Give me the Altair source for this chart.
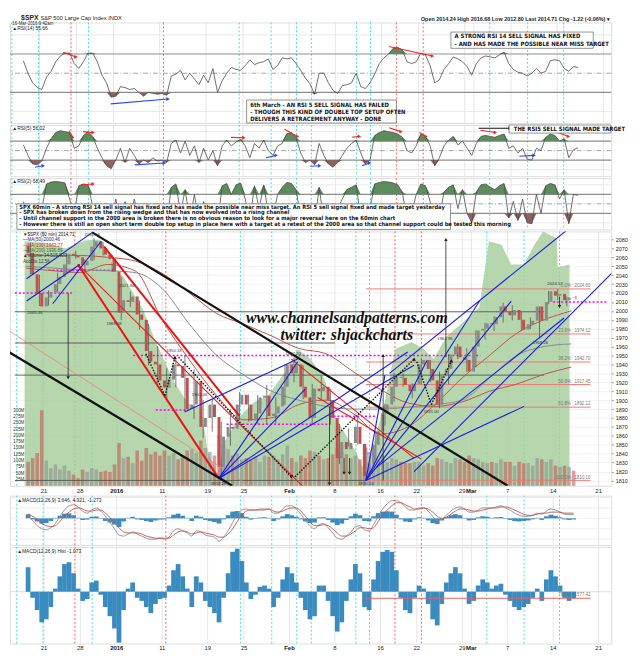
import altair as alt
import pandas as pd

# ---------------------------------------------------------------- calendar (trading-day index, Dec 17 2015 = 0)
tick_t = [2, 6, 10, 15, 20, 24, 29, 34, 39, 43, 48, 49, 53, 58, 63]
tick_lbl = ["21", "28", "2016", "11", "19", "25", "Feb", "8", "16", "22", "29", "Mar", "7", "14", "21"]
bold_tick_t = [10, 29, 49]
cyan_t = [-1.0, 1.9, 7.3, 23.6, 27.05, 29.8, 31.4, 36.3, 37.8, 50.7, 54.8, 58.7]
red_t = [5.4, 15.4, 40.6, 43.5]

# ---------------------------------------------------------------- price (half-day closes)
first_open = 2073.0
half_day_close = [
    2065, 2041, 2020, 2005, 2015, 2021, 2030, 2038, 2052, 2064,
    2062, 2060, 2051, 2056, 2072, 2078, 2070, 2063, 2058, 2044,
    1998, 2012, 2010, 2016, 1996, 1990, 1955, 1943, 1940, 1922,
    1914, 1923, 1940, 1938, 1925, 1890, 1895, 1921, 1870, 1880,
    1895, 1881, 1825, 1859, 1870, 1868, 1895, 1906, 1895, 1877,
    1885, 1903, 1905, 1882, 1885, 1893, 1915, 1940, 1930, 1940,
    1915, 1903, 1880, 1913, 1910, 1915, 1900, 1880, 1835, 1853,
    1845, 1852, 1870, 1851, 1815, 1829, 1850, 1865, 1885, 1895,
    1915, 1926, 1925, 1917, 1910, 1918, 1940, 1945, 1935, 1922,
    1895, 1929, 1935, 1951, 1960, 1948, 1945, 1932, 1960, 1978,
    1980, 1986, 1985, 1993, 2005, 1999, 1995, 2001, 1990, 1979,
    1985, 1989, 2005, 1989, 2010, 2022, 2017, 2019, 2012, 2015,
    2014.7,
]
day_high = [
    2076.7, 2040.4, 2022.9, 2042.7, 2064.7, 2067.4, 2057.8, 2081.6, 2077.3, 2062.5,
    2038.2, 2021.9, 2011.7, 1985.3, 1960.4, 1935.7, 1947.4, 1950.3, 1934.5, 1900.2,
    1901.4, 1876.0, 1889.9, 1908.9, 1906.3, 1905.9, 1917.0, 1903.0, 1940.2, 1947.2,
    1939.0, 1918.0, 1927.4, 1913.0, 1873.5, 1868.3, 1881.6, 1847.0, 1864.8, 1895.8,
    1930.7, 1930.0, 1918.8, 1946.7, 1945.0, 1932.0, 1951.8, 1963.0, 1958.0, 1978.4,
    1986.5, 1994.0, 2009.1, 2006.5, 1999.4, 1992.7, 2005.0, 2022.4, 2024.6, 2016.0,
    2016.7,
]
day_low = [
    2041.0, 2005.5, 2005.9, 2020.5, 2042.4, 2058.7, 2044.2, 2056.7, 2062.0, 2043.6,
    1989.7, 2004.2, 1979.1, 1938.8, 1918.5, 1901.1, 1914.4, 1886.4, 1878.9, 1857.8,
    1864.6, 1812.3, 1849.0, 1877.5, 1876.0, 1873.0, 1872.7, 1873.7, 1894.7, 1920.0,
    1901.0, 1872.7, 1900.5, 1872.7, 1828.5, 1848.0, 1850.3, 1810.1, 1833.0, 1871.4,
    1898.6, 1915.0, 1902.0, 1918.0, 1920.0, 1891.0, 1917.8, 1945.8, 1931.8, 1937.0,
    1968.0, 1977.4, 1986.8, 1989.4, 1977.7, 1979.8, 1969.3, 2007.5, 2012.1, 2005.2,
    2012.8,
]
volume_m = [
    95, 110, 130, 300, 100, 70, 85, 65, 80, 60,
    45, 30, 65, 55, 70, 65, 55, 60, 55, 85,
    170, 110, 115, 90, 140, 100, 150, 125, 135, 120,
    140, 120, 130, 105, 120, 140, 145, 130, 180, 150,
    135, 120, 200, 160, 145, 120, 130, 105, 110, 105,
    115, 95, 120, 115, 120, 105, 125, 160, 110, 95,
    120, 110, 140, 135, 120, 105, 110, 125, 150, 135,
    125, 110, 120, 105, 165, 135, 110, 105, 120, 95,
    110, 105, 95, 90, 90, 95, 95, 80, 90, 80,
    110, 105, 95, 90, 110, 105, 95, 120, 110, 105,
    95, 90, 95, 90, 105, 95, 95, 80, 95, 90,
    90, 80, 110, 105, 95, 105, 80, 75, 80, 75,
    60,
]
green_t = [-0.13, 2.21, 4.35, 6.48, 8.08, 9.14, 9.68, 10.74, 12.87, 14.26, 16.39, 17.88, 19.27,
           20.02, 21.08, 21.93, 23.54, 25.13, 26.73, 28.55, 29.93, 31.32, 32.81, 34.19, 35.26,
           36.33, 37.4, 38.47, 39.53, 40.6, 42.41, 43.8, 44.86, 46.25, 48.38, 49.87, 50.93,
           52.32, 53.39, 54.77, 56.05, 56.9, 58.4, 58.5, 59.8]
green_p = [2078, 2076, 2070, 2079, 2080, 2065, 2046, 2038, 2002, 1966, 1919, 1896, 1892,
           1842, 1817, 1855, 1882, 1898, 1906, 1932, 1957, 1946, 1925, 1878, 1860,
           1842, 1817, 1860, 1900, 1957, 1965, 1957, 1946, 1971, 1990, 2004, 2078,
           2074, 2052, 2052, 2076, 2089, 2081, 2049, 2052]

ma_t = [0, 3, 6, 9, 12, 15, 18, 21, 24, 27, 30, 33, 36, 39, 42, 45, 48, 51, 54, 57, 60]
ma50 = [2048, 2045, 2043, 2052, 2045, 1990, 1945, 1905, 1878, 1880, 1895, 1900, 1885, 1862, 1870, 1895, 1925, 1950, 1975, 1990, 2000]
ma100 = [2050, 2048, 2046, 2045, 2043, 2025, 1985, 1950, 1928, 1910, 1900, 1893, 1890, 1890, 1892, 1895, 1900, 1925, 1950, 1960, 1963]
ma200 = [2063, 2062, 2062, 2060, 2056, 2042, 2020, 1997, 1985, 1972, 1958, 1952, 1932, 1912, 1897, 1893, 1898, 1910, 1918, 1929, 1937]

# ---------------------------------------------------------------- indicators (half-day samples)
rsi14 = [63, 50, 40, 35, 33, 46, 52, 62, 68, 71, 71, 60, 55, 62, 71, 71, 62, 48, 40, 25,
         26, 36, 35, 33, 34, 30, 26, 30, 29, 28, 29, 27, 47, 49, 53, 43, 50, 44, 38, 48,
         40, 55, 30, 42, 50, 56, 54, 53, 58, 64, 59, 61, 62, 65, 54, 58, 66, 65, 66, 60,
         53, 45, 39, 28, 50, 50, 40, 32, 29, 37, 38, 40, 50, 36, 34, 40, 49, 60, 66, 70,
         76, 77, 74, 62, 60, 62, 71, 69, 58, 40, 43, 54, 60, 67, 65, 62, 57, 48, 60, 66,
         68, 67, 66, 69, 72, 60, 54, 51, 50, 47, 50, 55, 50, 52, 63, 64, 63, 55, 52, 57, 56]
rsi5 = [62, 40, 22, 20, 28, 55, 75, 88, 92, 90, 88, 55, 60, 82, 90, 80, 55, 35, 18, 12,
        30, 55, 25, 55, 40, 22, 30, 25, 35, 28, 30, 25, 65, 72, 45, 70, 40, 60, 25, 55,
        30, 50, 18, 60, 72, 60, 68, 74, 60, 35, 65, 55, 72, 50, 40, 60, 65, 86, 88, 78,
        45, 25, 30, 20, 65, 40, 22, 15, 25, 40, 55, 65, 72, 45, 22, 30, 82, 88, 92, 90,
        88, 85, 78, 50, 45, 60, 85, 80, 60, 18, 35, 60, 72, 80, 62, 70, 55, 40, 65, 80,
        82, 80, 78, 82, 85, 55, 60, 45, 55, 32, 30, 55, 50, 78, 85, 82, 70, 75, 35, 52, 56]
rsi2 = [55, 12, 8, 5, 40, 92, 96, 97, 96, 94, 60, 30, 88, 92, 90, 45, 20, 5, 3, 8,
        60, 10, 55, 20, 60, 15, 30, 10, 40, 12, 25, 8, 85, 92, 30, 80, 15, 70, 10, 55,
        12, 40, 3, 88, 93, 70, 90, 94, 60, 15, 88, 40, 90, 30, 20, 70, 85, 95, 93, 80,
        20, 5, 30, 5, 85, 15, 5, 3, 40, 60, 80, 85, 90, 20, 5, 40, 92, 95, 97, 96,
        94, 90, 75, 15, 30, 70, 92, 88, 55, 3, 20, 75, 85, 90, 40, 80, 30, 10, 75, 90,
        92, 85, 80, 88, 93, 20, 55, 15, 60, 10, 8, 70, 30, 88, 93, 90, 60, 80, 8, 70, 68]
macd_line = [2, -2, -7, -10, -11, -9, -5, 2, 8, 12, 13, 11, 7, 5, 8, 10, 7, 2, -4, -10,
             -16, -17, -15, -13, -15, -17, -19, -20, -20, -19, -20, -18, -12, -10, -12, -14, -17, -12, -13, -16,
             -17, -18, -22, -18, -12, -4, 4, 8, 9, 8, 8, 9, 9, 9, 5, 5, 9, 12, 12, 9,
             4, -2, -7, -10, -6, -5, -9, -14, -19, -20, -17, -13, -8, -7, -11, -12, -6, 2, 9, 14,
             17, 17, 15, 11, 8, 8, 10, 10, 7, 2, -2, -1, 3, 7, 10, 11, 9, 6, 6, 8,
             10, 10, 10, 11, 12, 10, 8, 5, 3, 2, 2, 3, 5, 4, 7, 9, 8, 6, 4, 3.5, 3.6]
macd_signal = [4, 2, -1, -5, -7, -8, -7, -3, 2, 6, 9, 10, 9, 7, 7, 8, 8, 5, 1, -4,
               -9, -13, -14, -14, -14, -15, -17, -18, -19, -19, -19, -19, -16, -13, -12, -13, -15, -14, -13, -14,
               -15, -16, -18, -18, -15, -10, -3, 3, 7, 8, 8, 8, 8, 9, 7, 6, 7, 9, 10, 10,
               7, 2, -3, -7, -7, -6, -7, -10, -14, -17, -17, -15, -12, -9, -9, -10, -9, -3, 3, 8,
               12, 15, 15, 13, 11, 9, 9, 10, 9, 6, 2, 0, 1, 4, 7, 9, 9, 8, 7, 7,
               8, 9, 10, 10, 11, 11, 10, 8, 6, 4, 3, 3, 4, 5, 5, 6, 6, 6, 5, 5, 4.9]
macd_hist = [4, -1, -3, -5, -4.5, -2.5, 0.5, 2.5, 4.5, 4.8, 3, 0.5, -1.5, -1.2, 1.5, 1.8, -0.5, -2.5, -4, -6,
             -8.3, -3, 0.5, 1.5, -1, -1.5, -2.5, -3.5, -2, -1.2, -1, 1, 3.5, 4.5, 2.5, 0.5, -2.5, 2.5, 1.5, -1.5,
             -2.5, -3.5, -5, -1, 3, 6.5, 7, 5, 1.5, -1.2, -0.5, 0.8, 1, 0.5, -2.5, -1, 2, 4, 3, 1.5,
             -1, -3, -4.5, -4, 1, 1, -1.5, -4, -6.5, -5, -1.5, 2, 4.5, 3, -2.5, -3, 2, 5, 6.5, 6.8,
             6.5, 3.5, -1, -3, -3.5, -1, 1, 0.5, -2, -4.5, -5.5, -2, 1.5, 3, 4, 3, 0.5, -2, -1.5, 1,
             2, 1.5, 0.5, 1, 1.3, -0.5, -1.5, -2.5, -3, -2.5, -2, -1, 0.5, -1.5, 2, 3.5, 2.5, 1, -1, -1.5, -1.07]

# ---------------------------------------------------------------- drawn annotations (trading day, price)
fib_pct = ["0.0%", "23.6%", "38.2%", "50.0%", "61.8%", "100.0%"]
fib_val = [2024.60, 1974.12, 1942.70, 1917.45, 1892.12, 1810.10]
blue_lines = [
    (0.08, 2036, 7.33, 2088), (2.96, 2008, 8.29, 2078), (0.08, 2011, 5.94, 2052),
    (17.5, 1887, 29.9, 1946),
    (21.2, 1812, 29.9, 1943), (21.2, 1812, 30.7, 1912), (21.2, 1812, 42.0, 1954), (21.2, 1812, 42.7, 1939),
    (37.4, 1810, 39.5, 1928), (37.4, 1810, 44.1, 1944), (37.4, 1810, 49.9, 2011), (37.4, 1810, 53.4, 2011),
    (37.4, 1810, 54.8, 1893),
    (40.0, 1930, 62.0, 2111), (42.7, 1820, 66.0, 2058), (38.5, 1824, 59.2, 1992),
]
black_lines = [(7.3, 2088, 53.0, 1804), (-2.05, 1955, 22.7, 1804)]
red_thick_lines = [(5.73, 2052, 21.1, 1814), (8.61, 2072, 23.5, 1882)]
red_lines = [(29.2, 1946, 42.7, 1835), (32.1, 1903, 43.5, 1834), (5.73, 2052, 30.4, 1804)]
salmon_lines = [(-2.05, 1979, 24.6, 1804)]
dotted_lines = [(13.2, 1952, 15.3, 1905), (15.3, 1905, 16.4, 1948), (16.8, 1948, 29.2, 1814),
                (29.6, 1814, 42.7, 1946), (43.0, 1943, 44.6, 1895), (44.6, 1895, 46.8, 1944)]
dotted_heads = [(29.2, 1814, "triangle-down"), (42.7, 1946, "triangle-up"), (46.8, 1944, "triangle-up"), (16.4, 1948, "triangle-up")]
vertical_arrows = [(4.66, 2020, 1925), (39.3, 1810, 1950), (46.2, 1948, 2080), (33.4, 1893, 1806),
                   (35.0, 1835, 1818), (35.6, 1835, 1818), (58.7, 2016, 2005)]
magenta_levels = [(-1.2, 5.1, 2020), (2.5, 9.7, 2045.6), (11.8, 50.0, 1950), (14.3, 17.9, 1889),
                  (22.1, 33.4, 1873), (33.4, 38.5, 1882), (58.0, 63.85, 2010)]
dark_levels = [(-1.2, 57.0, 1999), (-1.2, 34.0, 1964), (-1.2, 57.0, 1928), (-1.2, 37.4, 1810)]
price_labels = [(1.0, 1998, "2005.46"), (7.3, 2085.5, "2081.56"), (11.1, 2028, "2021.94"), (9.7, 1985, "1989.68"),
                (16.3, 1955, "1950.33"), (19.1, 1906, "1901.44"), (21.2, 1806.5, "1812.29"), (29.4, 1952, "1947.20"),
                (37.4, 1806.5, "1810.10"), (46.1, 1968, "1962.96"), (44.6, 1887, "1891.00"), (56.6, 1964, "1969.26"),
                (58.2, 2030, "2024.57")]
RED, BLUE, BLK = "#ff2020", "#2848ff", "#111111"
rsi14_arrows = [(4.56, 72, 5.94, 67, RED), (39.8, 78, 44.5, 68, RED), (9.7, 18, 15.9, 23, BLUE)]
rsi5_arrows = [(5.2, 92, 5.6, 78, RED), (6.7, 90, 7.8, 88, RED), (22.7, 78, 24.1, 77, RED), (28.5, 95, 29.9, 80, RED),
               (35.8, 78, 36.6, 80, RED), (39.8, 98, 41.1, 90, RED), (43.1, 88, 43.8, 80, RED), (49.5, 97, 52.9, 97, BLK),
               (49.7, 93, 51.3, 88, RED), (57.6, 92, 59.2, 80, RED), (1.5, 15, 2.4, 18, BLUE), (12.3, 20, 15.5, 24, BLUE),
               (26.5, 35, 27.6, 40, BLUE), (31.3, 17, 32.3, 18, BLUE), (36.9, 18, 37.7, 24, BLUE), (53.9, 38, 55.5, 40, BLUE)]
rsi2_arrows = [(6.5, 90, 7.8, 92, RED)]

box_note_lines = [
    "SPX 60min - A strong RSI 14 sell signal has fixed and has made the possible near miss target. An RSI 5 sell signal fixed and made target yesterday",
    "- SPX has broken down from the rising wedge and that has now evolved into a rising channel",
    "- Until channel support in the 2000 area is broken there is no obvious reason to look for a major reversal here on the 60min chart",
    "- However there is still an open short term double top setup in place here with a target at a retest of the 2000 area so that channel support could be tested this morning",
]
box1_lines = ["6th March - AN RSI 5 SELL SIGNAL HAS FAILED", "- THOUGH THIS KIND OF DOUBLE TOP SETUP OFTEN",
              "DELIVERS A RETRACEMENT ANYWAY - DONE"]
box2_lines = ["A STRONG RSI 14 SELL SIGNAL HAS FIXED", "- AND HAS MADE THE POSSIBLE NEAR MISS TARGET"]
box3_lines = ["THE RSI5 SELL SIGNAL MADE TARGET"]

# ---------------------------------------------------------------- layout
W = 610
T0, T1 = -1.2, 63.85
P0, P1 = 1804, 2089
XS = alt.Scale(domain=[T0, T1], nice=False, zero=False)
FONT = "Liberation Sans"
NARROW = "Liberation Sans Narrow, DejaVu Sans Condensed, Liberation Sans"
H_PRICE = 258
H_HIST = 98


def X(field="t"):
    return alt.X(f"{field}:Q", scale=XS, axis=None)


def Yq(field, scale):
    return alt.Y(f"{field}:Q", scale=scale, axis=None)


def right_axis(values, grid=False, fmt="d"):
    return alt.Axis(orient="right", values=values, title=None, labelFontSize=5.5, labelFont=FONT, format=fmt,
                    labelColor="#222", ticks=True, tickSize=2, tickColor="#999", domain=False,
                    labelPadding=2, grid=grid, gridColor="#ececec", gridWidth=0.7, minExtent=20, maxExtent=20)


def halfday(vals, name="v"):
    return pd.DataFrame({"t": [0.25 + 0.5 * i for i in range(len(vals))], name: vals})


def verticals():
    g = alt.Chart(pd.DataFrame({"t": tick_t})).mark_rule(color="#dadada", strokeWidth=0.7).encode(x=X())
    c = alt.Chart(pd.DataFrame({"t": cyan_t})).mark_rule(color="#30dada", strokeDash=[2, 2], strokeWidth=0.9).encode(x=X())
    r = alt.Chart(pd.DataFrame({"t": red_t})).mark_rule(color="#ff3434", strokeDash=[2, 2], strokeWidth=0.8).encode(x=X())
    return [g, c, r]


def date_labels(h):
    df = pd.DataFrame({"t": tick_t, "txt": tick_lbl})
    df["b"] = [t in bold_tick_t for t in tick_t]
    plain = alt.Chart(df[~df["b"]]).mark_text(baseline="top", fontSize=6, font=FONT, color="#222").encode(
        x=X(), y=alt.value(h + 2), text="txt:N")
    bold = alt.Chart(df[df["b"]]).mark_text(baseline="top", fontSize=6, font=FONT, fontWeight="bold", color="#111").encode(
        x=X(), y=alt.value(h + 2), text="txt:N")
    return [plain, bold]


def text_layer(rows, scale, size=5.0, color="#222", align="left", weight="normal", font=FONT, style="normal"):
    df = pd.DataFrame(rows, columns=["t", "v", "txt"])
    return alt.Chart(df).mark_text(align=align, baseline="middle", fontSize=size, color=color, fontWeight=weight,
                                   font=font, fontStyle=style).encode(x=X(), y=Yq("v", scale), text="txt:N")


def arrow_layers(rows, scale):
    df = pd.DataFrame(rows, columns=["t1", "v1", "t2", "v2", "c"])
    seg = alt.Chart(df).mark_rule(strokeWidth=1.1).encode(
        x=X("t1"), y=Yq("v1", scale), x2="t2:Q", y2="v2:Q", color=alt.Color("c:N", scale=None))
    head = alt.Chart(df).mark_point(shape="triangle-right", filled=True, size=16, opacity=1).encode(
        x=X("t2"), y=Yq("v2", scale), color=alt.Color("c:N", scale=None))
    return [seg, head]


def box_layer(t1, t2, v1, v2, scale):
    df = pd.DataFrame({"t1": [t1], "t2": [t2], "v1": [v1], "v2": [v2]})
    return alt.Chart(df).mark_rect(fill="white", stroke="#777", strokeWidth=0.8).encode(
        x=X("t1"), x2="t2:Q", y=Yq("v1", scale), y2="v2:Q")


def rsi_layers(vals, ys, label, arrows):
    df = halfday(vals)
    df["hi"] = df["v"].clip(lower=70)
    df["lo"] = df["v"].clip(upper=30)
    df["b70"] = 70
    df["b30"] = 30
    light = alt.Chart(pd.DataFrame({"v": [90, 10]})).mark_rule(color="#e3e3e3", strokeWidth=0.8).encode(
        y=alt.Y("v:Q", scale=ys, axis=right_axis([90, 70, 50, 30, 10])))
    mid = alt.Chart(pd.DataFrame({"v": [70, 30]})).mark_rule(color="#8d8d8d", strokeWidth=1.1).encode(y=Yq("v", ys))
    half = alt.Chart(pd.DataFrame({"v": [50]})).mark_rule(color="#8d8d8d", strokeWidth=0.8,
                                                          strokeDash=[5, 2, 1, 2]).encode(y=Yq("v", ys))
    up = alt.Chart(df).mark_area(color="#5d8b5d").encode(x=X(), y=Yq("hi", ys), y2="b70:Q")
    dn = alt.Chart(df).mark_area(color="#8b6262").encode(x=X(), y=Yq("lo", ys), y2="b30:Q")
    line = alt.Chart(df).mark_line(color="#4a4a4a", strokeWidth=0.8).encode(x=X(), y=Yq("v", ys))
    lab = text_layer([(-0.95, ys.domain[1] - 6, label)], ys, size=5)
    return verticals() + [light, mid, half, up, dn, line, lab] + arrow_layers(arrows, ys)


def header_text(t, y, txt, size, align="left", weight="normal"):
    return alt.Chart(pd.DataFrame({"t": [t], "txt": [txt]})).mark_text(
        align=align, baseline="middle", fontSize=size, font=FONT, fontWeight=weight, color="#222").encode(
        x=X(), y=alt.value(y), text="txt:N")


# ---------------- RSI(14)
S14 = alt.Scale(domain=[-2, 103], nice=False, zero=False)
rsi14_layers = rsi_layers(rsi14, S14, "\u25b2RSI(14) 55.66", rsi14_arrows)
rsi14_layers += [box_layer(24.4, 40.6, -2, 22, S14),
                 text_layer([(24.8, 17, box1_lines[0]), (24.8, 9.5, box1_lines[1]), (24.8, 2, box1_lines[2])], S14,
                            size=6, weight="bold", font=NARROW, color="#111"),
                 box_layer(46.5, 61.9, 76, 93, S14),
                 text_layer([(46.9, 89, box2_lines[0]), (46.9, 81, box2_lines[1])], S14, size=6, weight="bold",
                            font=NARROW, color="#111"),
                 header_text(0.0, -5, "$SPX", 7, weight="bold"),
                 header_text(2.1, -5, "S&P 500 Large Cap Index INDX", 5.8),
                 header_text(63.7, -4, "Open 2014.24  High 2016.68  Low 2012.80  Last 2014.71  Chg -1.22 (-0.06%) \u25be", 5.5,
                             align="right", weight="bold"),
                 header_text(-0.95, 1.5, "16-Mar-2016 9:42am", 4.5)]
p_rsi14 = alt.layer(*rsi14_layers).properties(width=W, height=102)

# ---------------- RSI(5)
S5 = alt.Scale(domain=[-4, 104], nice=False, zero=False)
rsi5_layers = rsi_layers(rsi5, S5, "\u25b2RSI(5) 56.02", rsi5_arrows)
rsi5_layers += [box_layer(52.8, 63.8, 87, 104, S5),
                text_layer([(53.3, 95.5, box3_lines[0])], S5, size=6, weight="bold", font=NARROW, color="#111")]
p_rsi5 = alt.layer(*rsi5_layers).properties(width=W, height=52)

# ---------------- RSI(2)
S2 = alt.Scale(domain=[-4, 104], nice=False, zero=False)
rsi2_layers = rsi_layers(rsi2, S2, "\u25b2RSI(2) 68.49", rsi2_arrows)
rsi2_layers += [box_layer(-0.45, 46.45, -4, 50, S2),
                text_layer([(-0.2, 44, box_note_lines[0]), (-0.2, 32, box_note_lines[1]),
                            (-0.2, 20, box_note_lines[2]), (-0.2, 8, box_note_lines[3])], S2,
                           size=5.8, weight="bold", font=NARROW, color="#111")]
p_rsi2 = alt.layer(*rsi2_layers).properties(width=W, height=52)

# ---------------- price panel
PS = alt.Scale(domain=[P0, P1], nice=False, zero=False)
opens = [first_open] + half_day_close[:-1]
cdf = pd.DataFrame({"t": [0.25 + 0.5 * i for i in range(len(half_day_close))], "o": opens, "c": half_day_close})
cdf["dir"] = ["down" if c < o else "up" for o, c in zip(opens, half_day_close)]
vdf = halfday(volume_m, "vol")
vdf["dir"] = [cdf["dir"].iloc[i] if i < len(cdf) else "up" for i in range(len(vdf))]
wdf = pd.DataFrame({"t": [d + 0.5 for d in range(len(day_high))], "h": day_high, "l": day_low})
gdf = pd.DataFrame({"t": green_t, "p": green_p})
gdf["base"] = P0
madf = pd.concat([pd.DataFrame({"t": ma_t, "p": ma50, "s": "MA50"}),
                  pd.DataFrame({"t": ma_t, "p": ma100, "s": "MA100"}),
                  pd.DataFrame({"t": ma_t, "p": ma200, "s": "MA200"})])


def segs(rows):
    return pd.DataFrame(rows, columns=["t1", "p1", "t2", "p2"])


def seg_layer(rows, color, width, dash=None, opacity=1.0):
    kw = dict(color=color, strokeWidth=width, clip=True, opacity=opacity)
    if dash:
        kw["strokeDash"] = dash
    return alt.Chart(segs(rows)).mark_rule(**kw).encode(x=X("t1"), y=Yq("p1", PS), x2="t2:Q", y2="p2:Q")


def level_layer(rows, color, width, dash=None):
    df = pd.DataFrame(rows, columns=["t1", "t2", "p"])
    kw = dict(color=color, strokeWidth=width, clip=True)
    if dash:
        kw["strokeDash"] = dash
    return alt.Chart(df).mark_rule(**kw).encode(x=X("t1"), x2="t2:Q", y=Yq("p", PS))


green = alt.Chart(gdf).mark_area(color="#a9cf9f", opacity=0.85).encode(
    x=X(),
    y=alt.Y("p:Q", scale=PS, axis=right_axis(list(range(1810, 2090, 10)), grid=True)),
    y2="base:Q")
vol = alt.Chart(vdf).mark_bar(size=3.6, opacity=0.55).encode(
    x=X(),
    y=alt.Y("vol:Q", scale=alt.Scale(domain=[0, 1010], nice=False),
            axis=alt.Axis(orient="left", offset=-15, values=list(range(25, 325, 25)), labelExpr="datum.value + 'M'",
                          labelFontSize=4.5, labelFont=FONT, ticks=False, domain=False, grid=False, labelPadding=1,
                          title=None, labelColor="#333")),
    color=alt.Color("dir:N", scale=alt.Scale(domain=["down", "up"], range=["#c0504d", "#8a8a8a"]), legend=None))
fib_df = pd.DataFrame({"p": fib_val, "txt": [f"{a} : {b:.2f}" for a, b in zip(fib_pct, fib_val)]})
fib_df["t1"] = 37.4
fib_df["t2"] = 62.1
fib_df["pl"] = fib_df["p"] + 3
fib_lines = alt.Chart(fib_df).mark_rule(color="#f07878", strokeWidth=1).encode(x=X("t1"), x2="t2:Q", y=Yq("p", PS))
fib_txt = alt.Chart(fib_df).mark_text(align="right", fontSize=4.5, font=FONT, color="#777").encode(
    x=X("t2"), y=Yq("pl", PS), text="txt:N")
mas = alt.Chart(madf).mark_line(strokeWidth=1, interpolate="monotone").encode(
    x=X(), y=Yq("p", PS),
    color=alt.Color("s:N", scale=alt.Scale(domain=["MA50", "MA100", "MA200"], range=["#1c1c8a", "#d42a2a", "#2f6a2f"]), legend=None),
    detail="s:N")
wicks = alt.Chart(wdf).mark_rule(color="#444", strokeWidth=0.7).encode(x=X(), y=Yq("l", PS), y2="h:Q")
candles = alt.Chart(cdf).mark_bar(size=3.0).encode(
    x=X(), y=Yq("o", PS), y2="c:Q",
    color=alt.Color("dir:N", scale=alt.Scale(domain=["down", "up"], range=["#e3001b", "#1a1a1a"]), legend=None))
heads_df = pd.DataFrame(dotted_heads, columns=["t", "p", "s"])
dot_heads = alt.Chart(heads_df).mark_point(filled=True, size=14, color="#111", opacity=1).encode(
    x=X(), y=Yq("p", PS), shape=alt.Shape("s:N", scale=None))
va = pd.DataFrame(vertical_arrows, columns=["t", "p1", "p2"])
va["s"] = ["triangle-down" if b < a else "triangle-up" for a, b in zip(va["p1"], va["p2"])]
va_lines = alt.Chart(va).mark_rule(color="#222", strokeWidth=0.8).encode(x=X(), y=Yq("p1", PS), y2="p2:Q")
va_heads = alt.Chart(va).mark_point(filled=True, size=12, color="#222", opacity=1).encode(
    x=X(), y=Yq("p2", PS), shape=alt.Shape("s:N", scale=None))
plabels = text_layer(price_labels, PS, size=4.3, color="#333", align="center")
watermark = text_layer([(35.3, 1992, "www.channelsandpatterns.com"), (35.3, 1973, "twitter: shjackcharts")], PS,
                       size=16, color="#111", align="center", font="Liberation Serif", style="italic", weight="bold")
legend_rows = [(-0.3, 2085, "\u25bc$SPX (60 min) 2014.71"), (-0.3, 2079, "\u2014MA(50) 2000.46"),
               (-0.3, 2073, "\u2014MA(100) 1963.27"), (-0.3, 2067, "\u2014MA(200) 1936.89"),
               (-0.3, 2061, "\u25b2Volume 34,515,920"), (-0.3, 2055, "AccDis 12.56")]
legend_df = pd.DataFrame(legend_rows, columns=["t", "v", "txt"])
legend_df["c"] = ["#111", "#1c1c8a", "#d42a2a", "#2f6a2f", "#333", "#333"]
legend_txt = alt.Chart(legend_df).mark_text(align="left", baseline="middle", fontSize=4.6, font=FONT).encode(
    x=X(), y=Yq("v", PS), text="txt:N", color=alt.Color("c:N", scale=None))

price_layers = verticals() + [
    green, vol,
    level_layer(dark_levels, "#555", 0.9),
    fib_lines, fib_txt,
    level_layer(magenta_levels, "#ff00ff", 1.5, dash=[2, 2]),
    mas, wicks, candles,
    seg_layer(salmon_lines, "#f08080", 0.8),
    seg_layer(red_lines, "#e82020", 1.1),
    seg_layer(red_thick_lines, "#ee1111", 2.0),
    seg_layer(blue_lines, "#1a1ae6", 1.1),
    seg_layer(black_lines, "#111", 2.2),
    seg_layer(dotted_lines, "#111", 1.4, dash=[1.5, 1.5]),
    dot_heads, va_lines, va_heads, plabels, watermark, legend_txt,
] + date_labels(H_PRICE)
p_price = alt.layer(*price_layers).resolve_scale(y="independent").properties(width=W, height=H_PRICE)

# ---------------- MACD panel
MS = alt.Scale(domain=[-25.5, 21.8], nice=False, zero=False)
hdf = halfday(macd_hist)
hdf["z"] = 0
mdf = pd.concat([halfday(macd_line).assign(s="MACD"), halfday(macd_signal).assign(s="Signal")])
m_lv = alt.Chart(pd.DataFrame({"v": [20, 10, 0, -10, -20]})).mark_rule(color="#e6e6e6", strokeWidth=0.7).encode(
    y=alt.Y("v:Q", scale=MS, axis=right_axis([20, 10, 0, -10, -20])))
m_bars = alt.Chart(hdf).mark_bar(size=4.8, color="#3a8bbf").encode(x=X(), y=Yq("v", MS), y2="z:Q")
m_lines = alt.Chart(mdf).mark_line(strokeWidth=0.9, interpolate="monotone").encode(
    x=X(), y=Yq("v", MS),
    color=alt.Color("s:N", scale=alt.Scale(domain=["MACD", "Signal"], range=["#111", "#ef4040"]), legend=None),
    detail="s:N")
m_lab = text_layer([(-0.95, 18, "\u25b2MACD(12,26,9) 3.646, 4.921, -1.273")], MS, size=5)
p_macd = alt.layer(*(verticals() + [m_lv, m_bars, m_lines, m_lab])).properties(width=W, height=50)

# ---------------- MACD histogram panel
HS = alt.Scale(domain=[-8.45, 7.3], nice=False, zero=False)
h_lv = alt.Chart(pd.DataFrame({"v": [0]})).mark_rule(color="#cfcfcf", strokeWidth=0.7).encode(
    y=alt.Y("v:Q", scale=HS, axis=right_axis(list(range(-8, 8)), grid=True)))
h_bars = alt.Chart(hdf).mark_bar(size=4.8, color="#3a8bbf").encode(x=X(), y=Yq("v", HS), y2="z:Q")
h_red = alt.Chart(pd.DataFrame({"t1": [37.4], "t2": [62.1], "v": [-1.07]})).mark_rule(color="#e86060", strokeWidth=1).encode(
    x=X("t1"), x2="t2:Q", y=Yq("v", HS))
h_red_txt = text_layer([(62.1, -0.6, "78.6% : 1577.42")], HS, size=4.5, color="#777", align="right")
h_lab = text_layer([(-0.95, 6.7, "\u25b2MACD(12,26,9) Hist -1.073")], HS, size=5)
p_hist = alt.layer(*(verticals() + [h_lv, h_bars, h_red, h_red_txt, h_lab] + date_labels(H_HIST))).properties(
    width=W, height=H_HIST)

chart = alt.vconcat(p_rsi14, p_rsi5, p_rsi2, p_price, p_macd, p_hist, spacing=0).properties(
    padding={"left": 0, "top": 0, "right": 0, "bottom": 0}
).configure_view(stroke="#9a9a9a", strokeWidth=0.6).configure(font=FONT, background="white")

chart.save("out.html", embed_options={"renderer": "svg", "actions": False})
